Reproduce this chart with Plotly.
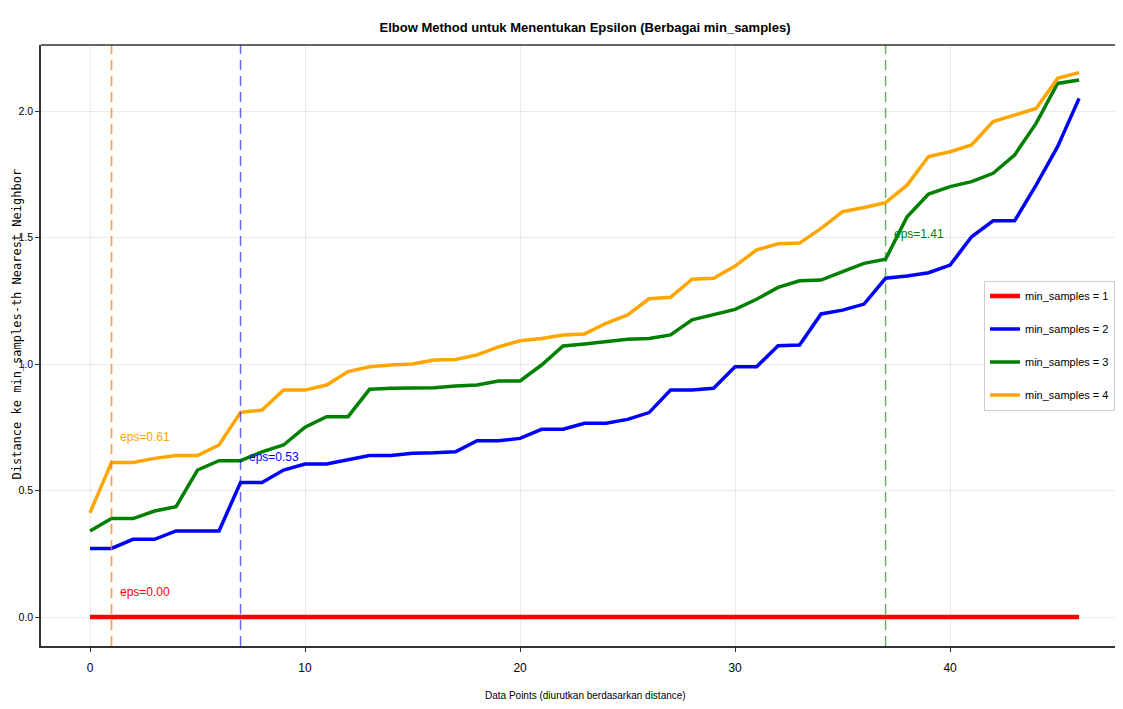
import plotly.graph_objects as go

x_points = list(range(47))

dist_ms1 = [0.0] * 47
dist_ms2 = [0.271, 0.271, 0.307, 0.307, 0.340, 0.340, 0.340, 0.532, 0.532, 0.581,
            0.605, 0.605, 0.623, 0.638, 0.638, 0.647, 0.649, 0.653, 0.697, 0.697,
            0.706, 0.742, 0.742, 0.766, 0.766, 0.781, 0.808, 0.897, 0.897, 0.904,
            0.989, 0.989, 1.072, 1.075, 1.198, 1.213, 1.237, 1.339, 1.348, 1.361,
            1.391, 1.503, 1.566, 1.566, 1.707, 1.859, 2.050]
dist_ms3 = [0.340, 0.389, 0.389, 0.419, 0.436, 0.581, 0.618, 0.618, 0.653, 0.680,
            0.750, 0.792, 0.792, 0.900, 0.904, 0.904, 0.906, 0.913, 0.917, 0.933,
            0.933, 0.996, 1.071, 1.079, 1.088, 1.098, 1.101, 1.115, 1.175, 1.197,
            1.216, 1.256, 1.303, 1.329, 1.332, 1.365, 1.398, 1.414, 1.582, 1.672,
            1.701, 1.721, 1.754, 1.826, 1.951, 2.109, 2.123]
dist_ms4 = [0.412, 0.611, 0.611, 0.627, 0.638, 0.638, 0.680, 0.809, 0.818, 0.897,
            0.897, 0.917, 0.970, 0.989, 0.996, 1.000, 1.016, 1.018, 1.036, 1.068,
            1.092, 1.101, 1.115, 1.119, 1.161, 1.194, 1.258, 1.264, 1.335, 1.339,
            1.387, 1.451, 1.475, 1.478, 1.536, 1.602, 1.619, 1.638, 1.707, 1.820,
            1.839, 1.866, 1.958, 1.984, 2.010, 2.129, 2.152]

series_names = ["min_samples = 1", "min_samples = 2", "min_samples = 3", "min_samples = 4"]
series_values = [dist_ms1, dist_ms2, dist_ms3, dist_ms4]
series_colors = ["#ff0000", "#0000ff", "#008000", "#ffa500"]
knee_x = [1, 7, 37, 1]
x_ticks = [0, 10, 20, 30, 40]
y_ticks = [0.0, 0.5, 1.0, 1.5, 2.0]
y_tick_labels = ["0.0", "0.5", "1.0", "1.5", "2.0"]

TXT = "Liberation Sans, Arial, sans-serif"

# page body has an 8px margin: design in figure coordinates = screen - 8
OFF = 8
W, H = 1123 - 2 * OFF, 709 - 2 * OFF
ML, MT = 41 - OFF, 45 - OFF
MR = 0
MB = H - (646 - OFF)
PW, PH = W - ML - MR, H - MT - MB


def px_x(sx):
    return (sx - OFF - ML) / PW


def px_y(sy):
    return (H - MB - (sy - OFF)) / PH


fig = go.Figure()

for i, (name, vals, col) in enumerate(zip(series_names, series_values, series_colors)):
    fig.add_trace(go.Scatter(
        x=x_points, y=vals, mode="lines", name=name,
        line=dict(color=col, width=4.5 if i == 0 else 3.5),
        legendgroup=f"g{i}",
    ))

for i, (vals, col, kx) in enumerate(zip(series_values, series_colors, knee_x)):
    fig.add_vline(x=kx, line=dict(color=col, width=1.5, dash="10px,6px"),
                  opacity=0.4 if i == 0 else 0.6)
    eps = vals[kx]
    fig.add_annotation(x=kx + 0.3, y=eps + 0.1, text=f"eps={eps:.2f}", showarrow=False,
                       xanchor="left", yanchor="middle",
                       font=dict(family=TXT, size=12, color=col))

# top spine
fig.add_shape(type="line", xref="paper", yref="paper", x0=0, x1=1, y0=1, y1=1,
              line=dict(color="#333333", width=1.5))

# axis titles as positioned text
fig.add_annotation(xref="paper", yref="paper", x=px_x(585), y=px_y(695),
                   text="Data Points (diurutkan berdasarkan distance)", showarrow=False,
                   xanchor="center", yanchor="middle",
                   font=dict(family=TXT, size=10, color="black"))
fig.add_annotation(xref="paper", yref="paper", x=px_x(16.5), y=px_y(324),
                   text="Distance ke min_samples-th Nearest Neighbor", showarrow=False,
                   textangle=-90, xanchor="center", yanchor="middle", borderpad=0,
                   font=dict(family="DejaVu Sans Mono", size=12, color="black"))

fig.update_layout(
    width=W, height=H,
    margin=dict(l=ML, r=MR, t=MT, b=MB, autoexpand=False),
    paper_bgcolor="white", plot_bgcolor="white",
    title=dict(text="<b>Elbow Method untuk Menentukan Epsilon (Berbagai min_samples)</b>",
               x=(585 - OFF) / W, xanchor="center", y=1 - (27 - OFF) / H, yanchor="middle",
               font=dict(family=TXT, size=13, color="black")),
    xaxis=dict(range=[-2.28, 47.67], tickvals=x_ticks, showgrid=True,
               gridcolor="rgba(0,0,0,0.08)", gridwidth=1, zeroline=False,
               showline=True, linecolor="#333333", linewidth=1.5,
               ticks="outside", ticklen=4, tickcolor="#333333", ticklabelstandoff=6,
               tickfont=dict(family=TXT, size=12, color="black"), automargin=False),
    yaxis=dict(range=[-0.1146, 2.261], tickvals=y_ticks, ticktext=y_tick_labels,
               showgrid=True, gridcolor="rgba(0,0,0,0.08)", gridwidth=1, zeroline=False,
               showline=True, linecolor="#333333", linewidth=1.5,
               ticks="outside", ticklen=4, tickcolor="#333333",
               tickfont=dict(family=TXT, size=10.5, color="black"), automargin=False),
    legend=dict(x=1.0, xanchor="right", y=0.5, yanchor="middle",
                bgcolor="white", bordercolor="#cccccc", borderwidth=1,
                font=dict(family=TXT, size=11, color="black"),
                tracegroupgap=14, itemwidth=30),
    showlegend=True,
)

fig.write_html("out.html")
